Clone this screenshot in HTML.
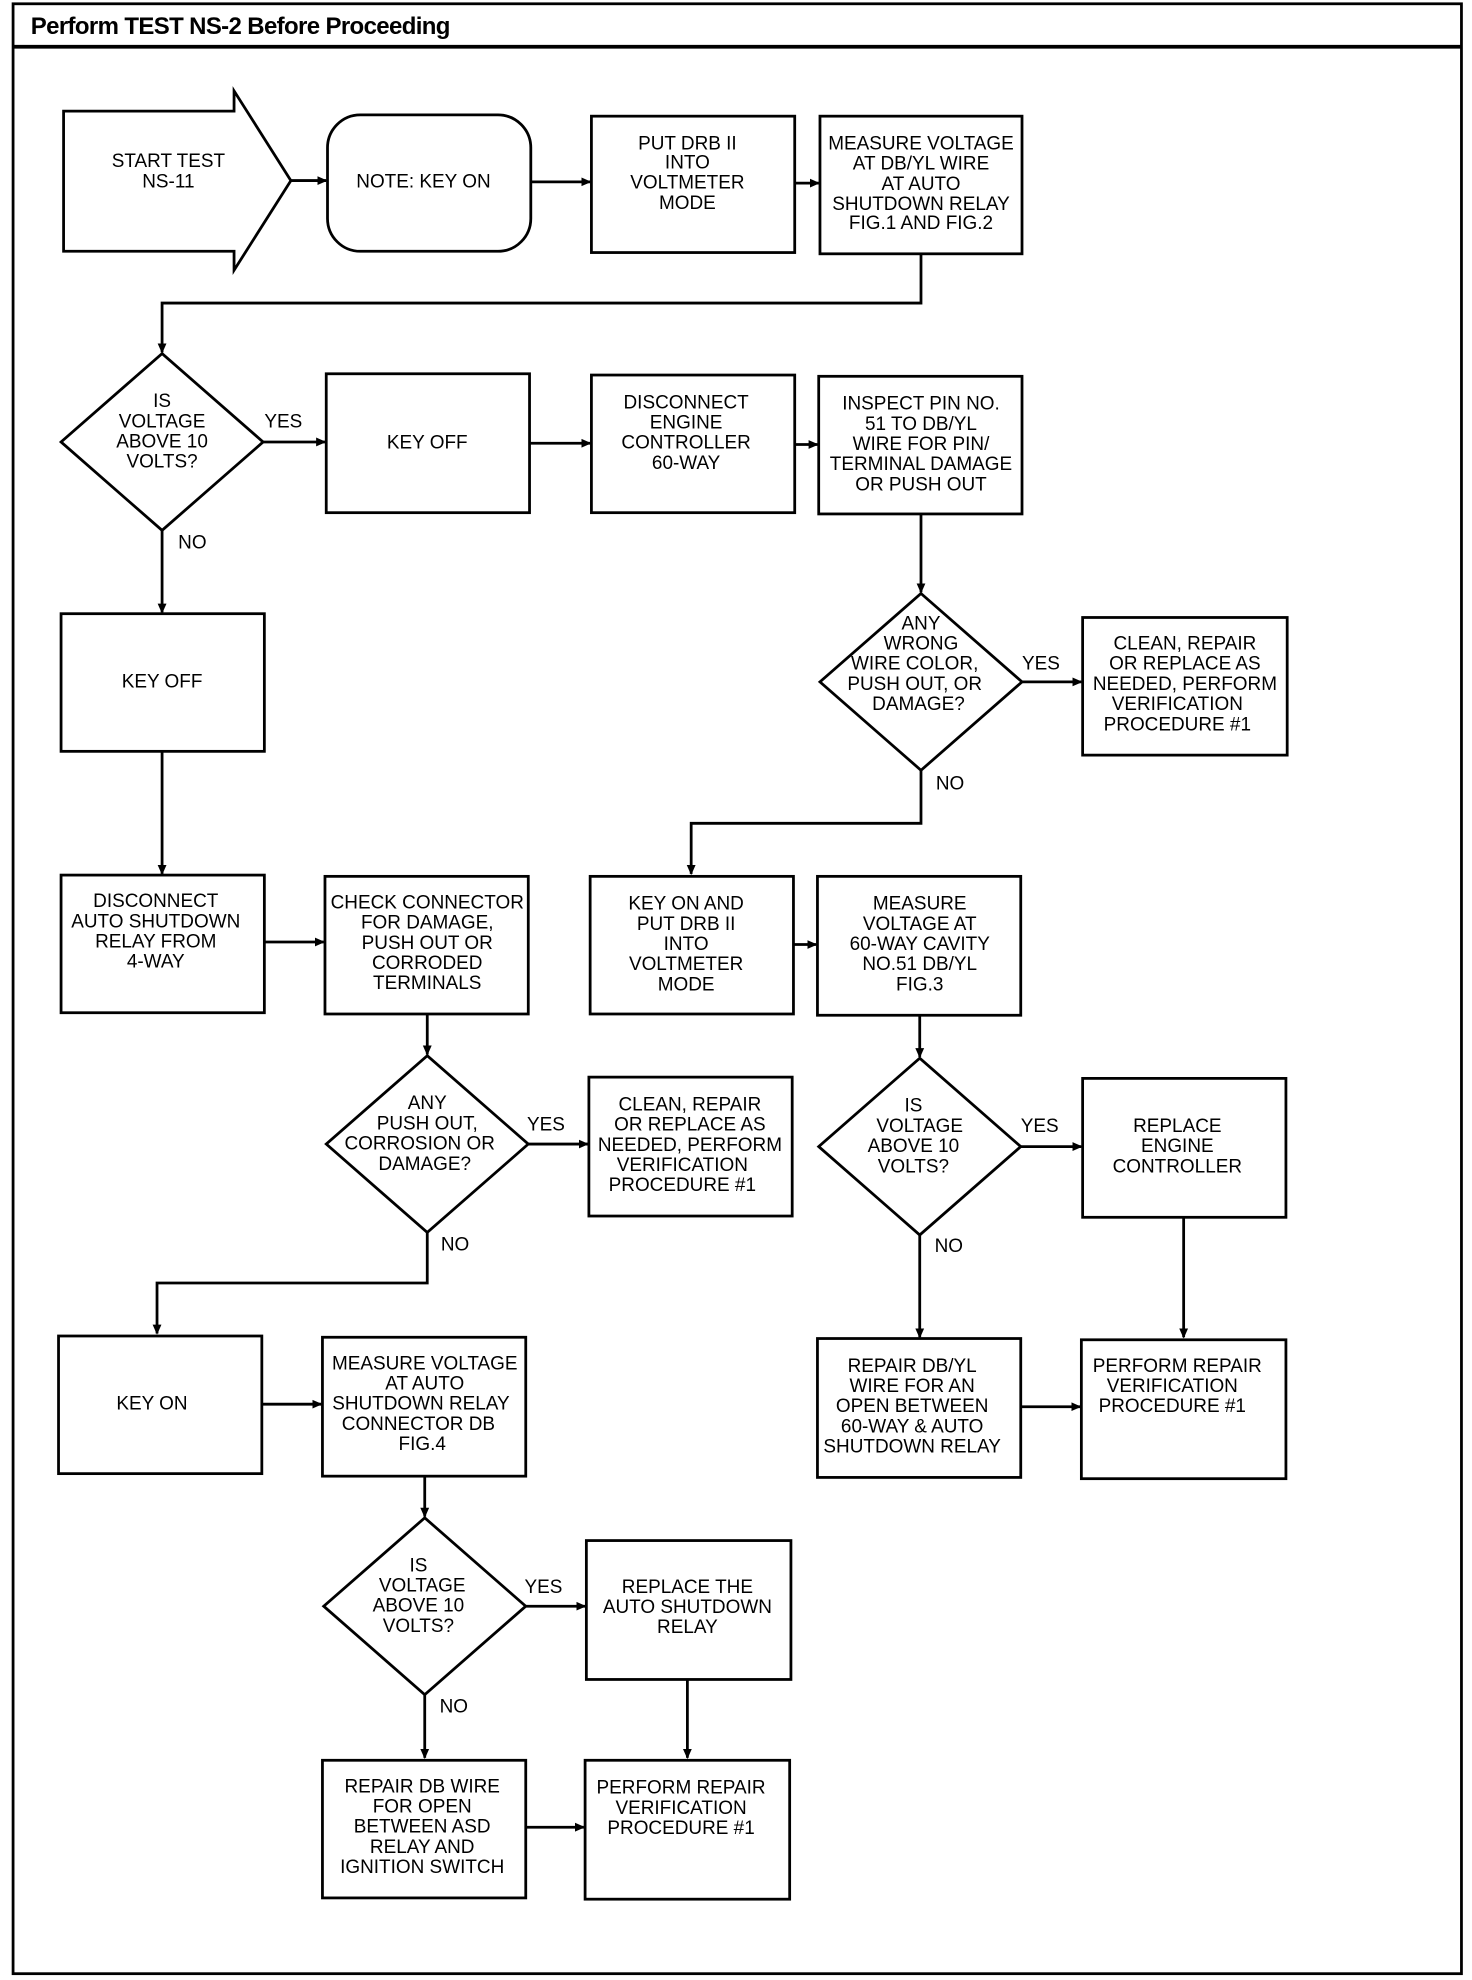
<!DOCTYPE html>
<html><head><meta charset="utf-8"><style>
html,body{margin:0;padding:0;background:#fff}
svg{display:block}
text{font-family:"Liberation Sans",sans-serif;font-size:15px;text-anchor:middle;dominant-baseline:central;fill:#000}
.s{fill:none;stroke:#000;stroke-width:2.2}
.b{fill:#fff;stroke:#000;stroke-width:2.2}
.l{text-anchor:start}
</style></head><body>
<svg width="1472" height="1980" viewBox="0 0 1165 1568" xmlns="http://www.w3.org/2000/svg">
<defs><marker id="a" markerWidth="8" markerHeight="8" refX="7" refY="4" orient="auto" markerUnits="userSpaceOnUse"><path d="M0,0.5 L8,4 L0,7.5 z" fill="#000"/></marker></defs>
<rect x="10" y="3" width="1147" height="1560" class="s" stroke-width="2.5"/>
<line x1="10" y1="37" x2="1157" y2="37" stroke="#000" stroke-width="3"/>
<text x="24" y="21" class="l" style="font-weight:bold;font-size:19px;letter-spacing:-0.5px">Perform TEST NS-2 Before Proceeding</text>

<!-- row 1 -->
<polygon points="50,88 185,88 185,72 230,143 185,214 185,199 50,199" class="b"/>
<text x="133" y="128">START TEST</text><text x="133" y="144">NS-11</text>
<rect x="259" y="91" width="161" height="108" rx="26" class="b"/>
<text x="335" y="144">NOTE: KEY ON</text>
<rect x="468" y="92" width="161" height="108" class="b"/>
<text x="544" y="114">PUT DRB II</text><text x="544" y="129">INTO</text><text x="544" y="145">VOLTMETER</text><text x="544" y="161">MODE</text>
<rect x="649" y="92" width="160" height="109" class="b"/>
<text x="729" y="114">MEASURE VOLTAGE</text><text x="729" y="130">AT DB/YL WIRE</text><text x="729" y="146">AT AUTO</text><text x="729" y="162">SHUTDOWN RELAY</text><text x="729" y="177">FIG.1 AND FIG.2</text>
<line x1="230" y1="143" x2="258" y2="143" class="s" marker-end="url(#a)"/>
<line x1="420" y1="144" x2="467" y2="144" class="s" marker-end="url(#a)"/>
<line x1="629" y1="145" x2="648" y2="145" class="s" marker-end="url(#a)"/>
<polyline points="729,201 729,240 128,240 128,279" class="s" marker-end="url(#a)"/>

<!-- row 2 -->
<polygon points="128,280 208,350 128,420 48,350" class="b"/>
<text x="128" y="318">IS</text><text x="128" y="334">VOLTAGE</text><text x="128" y="350">ABOVE 10</text><text x="128" y="366">VOLTS?</text>
<text x="224" y="334">YES</text>
<line x1="208" y1="350" x2="257" y2="350" class="s" marker-end="url(#a)"/>
<rect x="258" y="296" width="161" height="110" class="b"/>
<text x="338" y="351">KEY OFF</text>
<line x1="419" y1="351" x2="467" y2="351" class="s" marker-end="url(#a)"/>
<rect x="468" y="297" width="161" height="109" class="b"/>
<text x="543" y="319">DISCONNECT</text><text x="543" y="335">ENGINE</text><text x="543" y="351">CONTROLLER</text><text x="543" y="367">60-WAY</text>
<line x1="629" y1="352" x2="647" y2="352" class="s" marker-end="url(#a)"/>
<rect x="648" y="298" width="161" height="109" class="b"/>
<text x="729" y="320">INSPECT PIN NO.</text><text x="729" y="336">51 TO DB/YL</text><text x="729" y="352">WIRE FOR PIN/</text><text x="729" y="368">TERMINAL DAMAGE</text><text x="729" y="384">OR PUSH OUT</text>
<line x1="729" y1="407" x2="729" y2="469" class="s" marker-end="url(#a)"/>
<polygon points="729,470 809,540 729,610 649,540" class="b"/>
<text x="729" y="494">ANY</text><text x="729" y="510">WRONG</text><text x="724" y="526">WIRE COLOR,</text><text x="724" y="542">PUSH OUT, OR</text><text x="727" y="558">DAMAGE?</text>
<text x="824" y="526">YES</text>
<line x1="809" y1="540" x2="856" y2="540" class="s" marker-end="url(#a)"/>
<rect x="857" y="489" width="162" height="109" class="b"/>
<text x="938" y="510">CLEAN, REPAIR</text><text x="938" y="526">OR REPLACE AS</text><text x="938" y="542">NEEDED, PERFORM</text><text x="932" y="558">VERIFICATION</text><text x="932" y="574">PROCEDURE #1</text>
<text x="752" y="621">NO</text>
<polyline points="729,610 729,652 547,652 547,692" class="s" marker-end="url(#a)"/>

<!-- left column -->
<text x="152" y="430">NO</text>
<line x1="128" y1="420" x2="128" y2="485" class="s" marker-end="url(#a)"/>
<rect x="48" y="486" width="161" height="109" class="b"/>
<text x="128" y="540">KEY OFF</text>
<line x1="128" y1="595" x2="128" y2="692" class="s" marker-end="url(#a)"/>
<rect x="48" y="693" width="161" height="109" class="b"/>
<text x="123" y="714">DISCONNECT</text><text x="123" y="730">AUTO SHUTDOWN</text><text x="123" y="746">RELAY FROM</text><text x="123" y="762">4-WAY</text>
<line x1="209" y1="746" x2="256" y2="746" class="s" marker-end="url(#a)"/>
<rect x="257" y="694" width="161" height="109" class="b"/>
<text x="338" y="715">CHECK CONNECTOR</text><text x="338" y="731">FOR DAMAGE,</text><text x="338" y="747">PUSH OUT OR</text><text x="338" y="763">CORRODED</text><text x="338" y="779">TERMINALS</text>
<line x1="338" y1="803" x2="338" y2="835" class="s" marker-end="url(#a)"/>
<polygon points="338,836 418,906 338,976 258,906" class="b"/>
<text x="338" y="874">ANY</text><text x="338" y="890">PUSH OUT,</text><text x="332" y="906">CORROSION OR</text><text x="336" y="922">DAMAGE?</text>
<text x="432" y="891">YES</text>
<line x1="418" y1="906" x2="465" y2="906" class="s" marker-end="url(#a)"/>
<rect x="466" y="853" width="161" height="110" class="b"/>
<text x="546" y="875">CLEAN, REPAIR</text><text x="546" y="891">OR REPLACE AS</text><text x="546" y="907">NEEDED, PERFORM</text><text x="540" y="923">VERIFICATION</text><text x="540" y="939">PROCEDURE #1</text>
<text x="360" y="986">NO</text>
<polyline points="338,976 338,1016 124,1016 124,1056" class="s" marker-end="url(#a)"/>
<rect x="46" y="1058" width="161" height="109" class="b"/>
<text x="120" y="1112">KEY ON</text>
<line x1="207" y1="1112" x2="254" y2="1112" class="s" marker-end="url(#a)"/>
<rect x="255" y="1059" width="161" height="110" class="b"/>
<text x="336" y="1080">MEASURE VOLTAGE</text><text x="336" y="1096">AT AUTO</text><text x="333" y="1112">SHUTDOWN RELAY</text><text x="331" y="1128">CONNECTOR DB</text><text x="334" y="1144">FIG.4</text>
<line x1="336" y1="1169" x2="336" y2="1201" class="s" marker-end="url(#a)"/>
<polygon points="336,1202 416,1272 336,1342 256,1272" class="b"/>
<text x="331" y="1240">IS</text><text x="334" y="1256">VOLTAGE</text><text x="331" y="1272">ABOVE 10</text><text x="331" y="1288">VOLTS?</text>
<text x="430" y="1257">YES</text>
<line x1="416" y1="1272" x2="463" y2="1272" class="s" marker-end="url(#a)"/>
<rect x="464" y="1220" width="162" height="110" class="b"/>
<text x="544" y="1257">REPLACE THE</text><text x="544" y="1273">AUTO SHUTDOWN</text><text x="544" y="1289">RELAY</text>
<line x1="544" y1="1330" x2="544" y2="1392" class="s" marker-end="url(#a)"/>
<text x="359" y="1352">NO</text>
<line x1="336" y1="1342" x2="336" y2="1392" class="s" marker-end="url(#a)"/>
<rect x="255" y="1394" width="161" height="109" class="b"/>
<text x="334" y="1415">REPAIR DB WIRE</text><text x="334" y="1431">FOR OPEN</text><text x="334" y="1447">BETWEEN ASD</text><text x="334" y="1463">RELAY AND</text><text x="334" y="1479">IGNITION SWITCH</text>
<line x1="416" y1="1447" x2="462" y2="1447" class="s" marker-end="url(#a)"/>
<rect x="463" y="1394" width="162" height="110" class="b"/>
<text x="539" y="1416">PERFORM REPAIR</text><text x="539" y="1432">VERIFICATION</text><text x="539" y="1448">PROCEDURE #1</text>

<!-- right lower -->
<rect x="467" y="694" width="161" height="109" class="b"/>
<text x="543" y="716">KEY ON AND</text><text x="543" y="732">PUT DRB II</text><text x="543" y="748">INTO</text><text x="543" y="764">VOLTMETER</text><text x="543" y="780">MODE</text>
<line x1="628" y1="748" x2="646" y2="748" class="s" marker-end="url(#a)"/>
<rect x="647" y="694" width="161" height="110" class="b"/>
<text x="728" y="716">MEASURE</text><text x="728" y="732">VOLTAGE AT</text><text x="728" y="748">60-WAY CAVITY</text><text x="728" y="764">NO.51 DB/YL</text><text x="728" y="780">FIG.3</text>
<line x1="728" y1="804" x2="728" y2="837" class="s" marker-end="url(#a)"/>
<polygon points="728,838 808,908 728,978 648,908" class="b"/>
<text x="723" y="876">IS</text><text x="728" y="892">VOLTAGE</text><text x="723" y="908">ABOVE 10</text><text x="723" y="924">VOLTS?</text>
<text x="823" y="892">YES</text>
<line x1="808" y1="908" x2="856" y2="908" class="s" marker-end="url(#a)"/>
<rect x="857" y="854" width="161" height="110" class="b"/>
<text x="932" y="892">REPLACE</text><text x="932" y="908">ENGINE</text><text x="932" y="924">CONTROLLER</text>
<line x1="937" y1="964" x2="937" y2="1059" class="s" marker-end="url(#a)"/>
<text x="751" y="987">NO</text>
<line x1="728" y1="978" x2="728" y2="1059" class="s" marker-end="url(#a)"/>
<rect x="647" y="1060" width="161" height="110" class="b"/>
<text x="722" y="1082">REPAIR DB/YL</text><text x="722" y="1098">WIRE FOR AN</text><text x="722" y="1114">OPEN BETWEEN</text><text x="722" y="1130">60-WAY &amp; AUTO</text><text x="722" y="1146">SHUTDOWN RELAY</text>
<line x1="808" y1="1114" x2="855" y2="1114" class="s" marker-end="url(#a)"/>
<rect x="856" y="1061" width="162" height="110" class="b"/>
<text x="932" y="1082">PERFORM REPAIR</text><text x="928" y="1098">VERIFICATION</text><text x="928" y="1114">PROCEDURE #1</text>
</svg>
</body></html>
